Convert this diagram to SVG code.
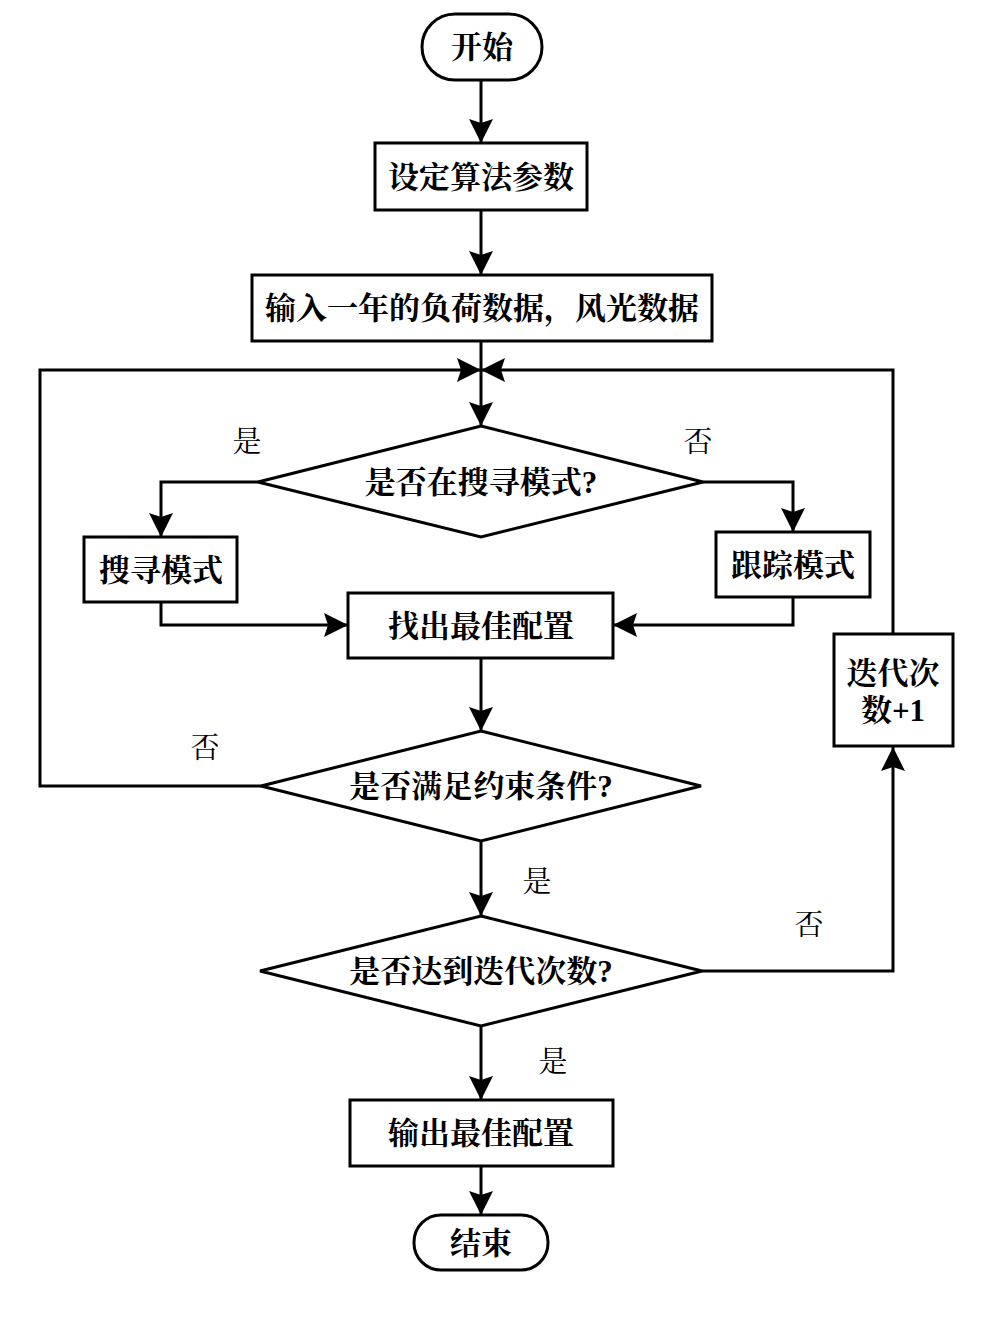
<svg xmlns="http://www.w3.org/2000/svg" width="1007" height="1321" viewBox="0 0 1007 1321">
<defs>
<style>
.shape{fill:#fff;stroke:#000;stroke-width:3}
.conn{fill:none;stroke:#000;stroke-width:3}
.t{font-family:"Liberation Serif","Noto Serif CJK SC","Noto Sans CJK SC",serif;font-size:31px;font-weight:bold;text-anchor:middle;dominant-baseline:central;fill:#000}
.lbl{font-family:"Liberation Serif","Noto Serif CJK SC","Noto Sans CJK SC",serif;font-size:29px;text-anchor:middle;dominant-baseline:central;fill:#000}
</style>
<marker id="arr" markerUnits="userSpaceOnUse" markerWidth="26" markerHeight="26" refX="24" refY="12" orient="auto">
<path d="M0,0 L24,12 L0,24 L4,12 Z" fill="#000"/>
</marker>
</defs>
<rect width="1007" height="1321" fill="#fff"/>
<g id="connectors">
<path class="conn" d="M481,80 V143" marker-end="url(#arr)"/>
<path class="conn" d="M481,210 V275" marker-end="url(#arr)"/>
<path class="conn" d="M481,341 V426" marker-end="url(#arr)"/>
<path class="conn" d="M261,786 H40 V370 H481" marker-end="url(#arr)"/>
<path class="conn" d="M893,634 V370 H481" marker-end="url(#arr)"/>
<path class="conn" d="M258,482 H161 V537" marker-end="url(#arr)"/>
<path class="conn" d="M703,482 H793 V532" marker-end="url(#arr)"/>
<path class="conn" d="M161,602 V625 H348" marker-end="url(#arr)"/>
<path class="conn" d="M793,597 V625 H613" marker-end="url(#arr)"/>
<path class="conn" d="M481,658 V731" marker-end="url(#arr)"/>
<path class="conn" d="M481,841 V916" marker-end="url(#arr)"/>
<path class="conn" d="M702,971 H893 V747" marker-end="url(#arr)"/>
<path class="conn" d="M481,1026 V1100" marker-end="url(#arr)"/>
<path class="conn" d="M481,1166 V1215" marker-end="url(#arr)"/>
</g>
<g id="start"><rect class="shape" x="422" y="14" width="120" height="66" rx="33"/><text class="t" x="482" y="47">开始</text></g>
<g id="setParams"><rect class="shape" x="375" y="143" width="212" height="67"/><text class="t" x="481" y="177">设定算法参数</text></g>
<g id="inputData"><rect class="shape" x="252" y="275" width="460" height="66"/><text class="t" x="482" y="308">输入一年的负荷数据，风光数据</text></g>
<g id="searchDecision"><polygon class="shape" points="481,426 703,482 481,537 258,482"/><text class="t" x="481" y="482">是否在搜寻模式?</text></g>
<g id="searchMode"><rect class="shape" x="84" y="537" width="153" height="65"/><text class="t" x="161" y="570">搜寻模式</text></g>
<g id="trackMode"><rect class="shape" x="716" y="532" width="154" height="65"/><text class="t" x="793" y="565">跟踪模式</text></g>
<g id="findBest"><rect class="shape" x="348" y="593" width="265" height="65"/><text class="t" x="481" y="626">找出最佳配置</text></g>
<g id="iterPlus"><rect class="shape" x="834" y="634" width="119" height="112"/><text class="t" x="893" y="673">迭代次</text><text class="t" x="893" y="710">数+1</text></g>
<g id="constraintDecision"><polygon class="shape" points="481,731 701,786 481,841 261,786"/><text class="t" x="481" y="786">是否满足约束条件?</text></g>
<g id="iterDecision"><polygon class="shape" points="481,916 702,971 481,1026 260,971"/><text class="t" x="481" y="971">是否达到迭代次数?</text></g>
<g id="output"><rect class="shape" x="350" y="1100" width="263" height="66"/><text class="t" x="481" y="1133">输出最佳配置</text></g>
<g id="end"><rect class="shape" x="414" y="1215" width="134" height="55" rx="27"/><text class="t" x="481" y="1243">结束</text></g>
<g id="labels">
<text class="lbl" x="247" y="442">是</text>
<text class="lbl" x="698" y="442">否</text>
<text class="lbl" x="205" y="748">否</text>
<text class="lbl" x="537" y="882">是</text>
<text class="lbl" x="809" y="925">否</text>
<text class="lbl" x="553" y="1062">是</text>
</g>
</svg>
